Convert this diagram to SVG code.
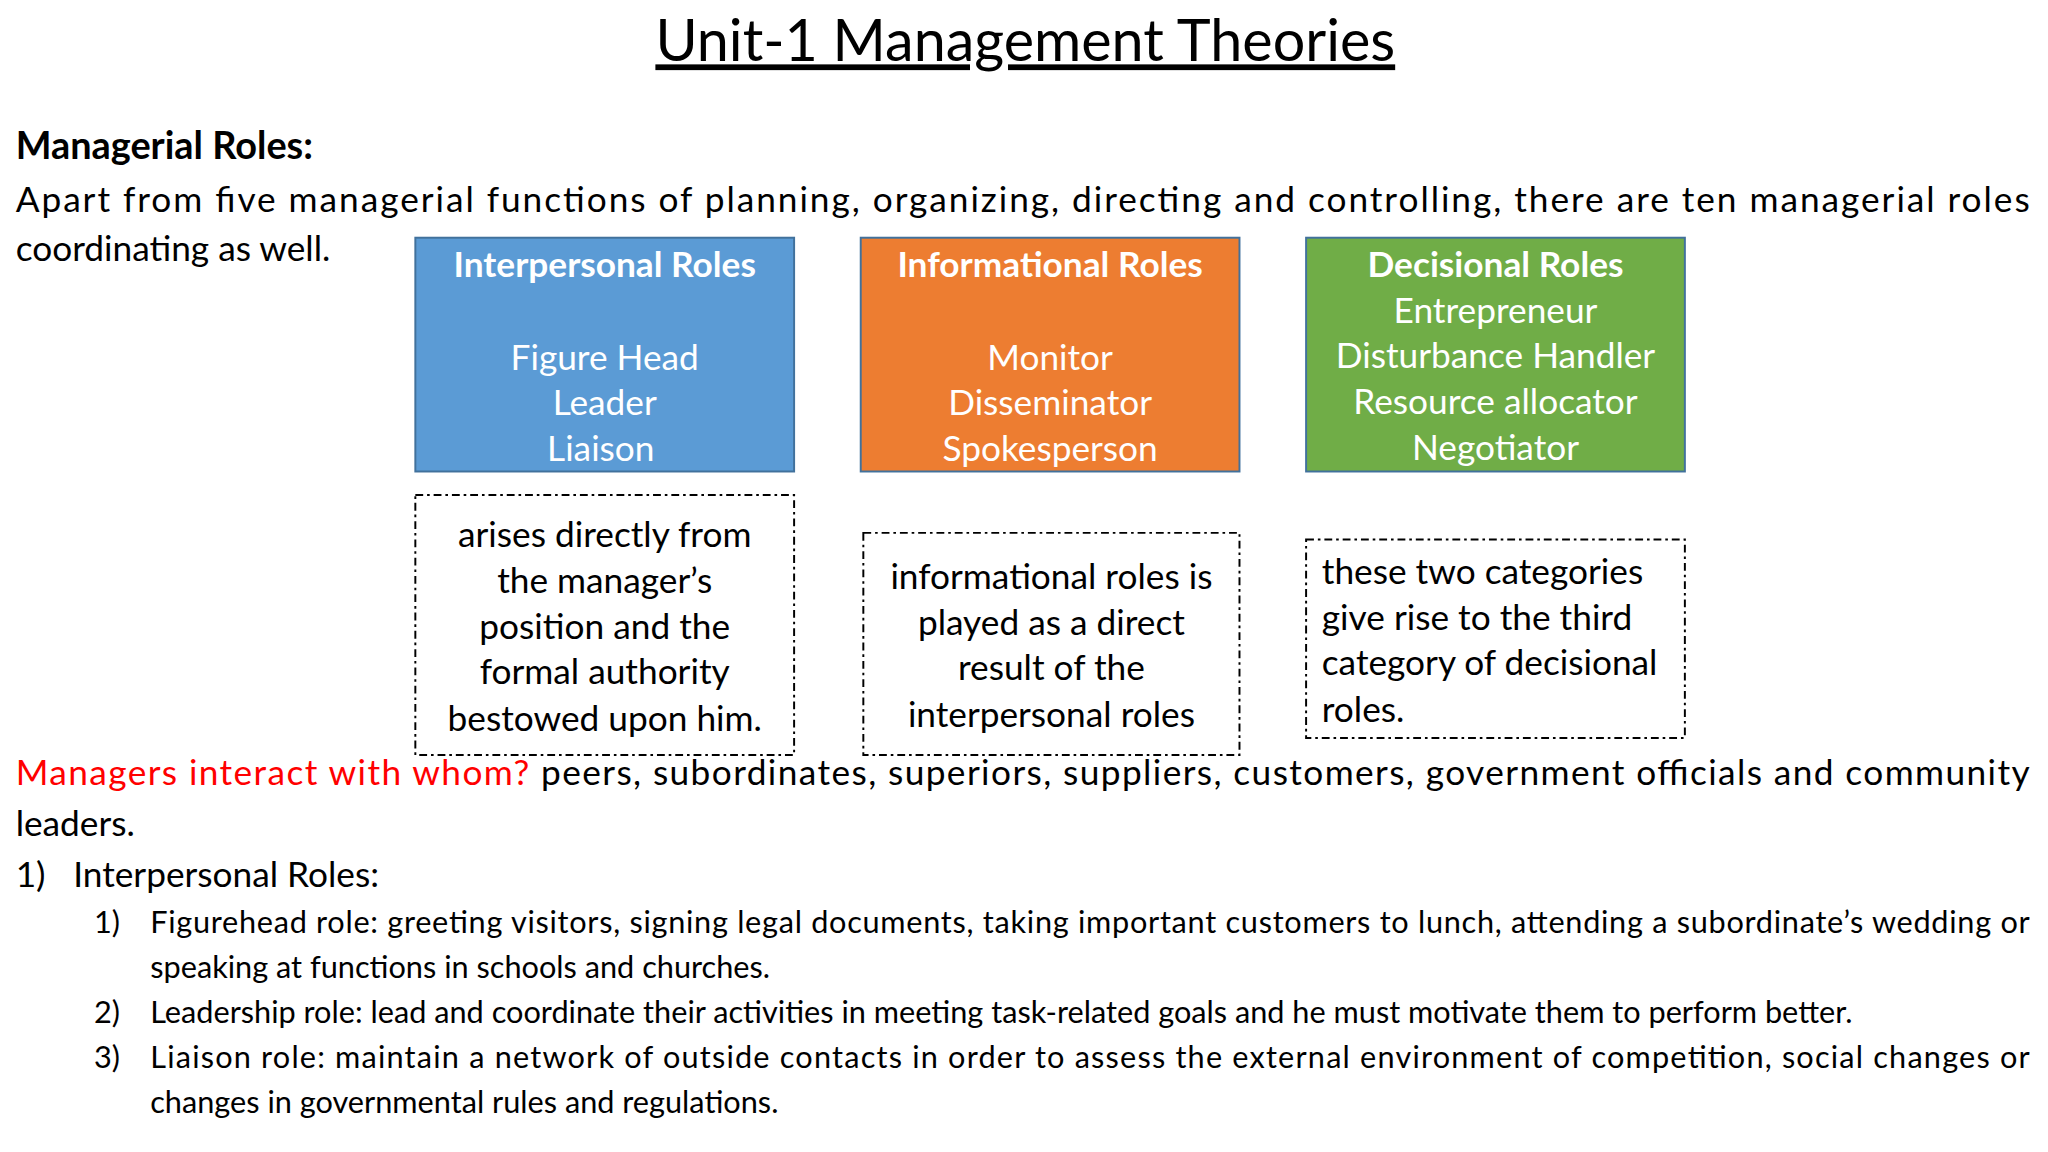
<svg xmlns="http://www.w3.org/2000/svg" width="2048" height="1152" viewBox="0 0 2048 1152">
<style>
text{font-family:Lato,"Open Sans","Liberation Sans",sans-serif;fill:#000}
.b{font-size:27px}
.w{font-size:27px;fill:#fff;text-anchor:middle}
.bd{font-weight:bold}
.c{text-anchor:middle}
.s{font-size:23.5px}
.dash{fill:#fff;stroke:#000;stroke-width:1.5;stroke-dasharray:6 3 2 3}
</style>
<rect width="2048" height="1152" fill="#fff"/>
<g transform="scale(1.3061)">
<text x="785" y="47" class="c" font-size="44" text-decoration="underline">Unit-1 Management Theories</text>
<text x="12" y="122" font-size="29" class="bd">Managerial Roles:</text>
<text x="12" y="162" class="b" textLength="1542" lengthAdjust="spacing">Apart from five managerial functions of planning, organizing, directing and controlling, there are ten managerial roles</text>
<text x="12" y="200" class="b">coordinating as well.</text>
<g id="interpersonal">
<rect x="318" y="182" width="290" height="179" fill="#5b9bd5" stroke="#41719c" stroke-width="1.5"/>
<text x="463" y="212" class="w bd">Interpersonal Roles</text>
<text x="463" y="283" class="w">Figure Head</text>
<text x="463" y="318" class="w">Leader</text>
<text x="460" y="353" class="w">Liaison</text>
</g>
<g id="informational">
<rect x="659" y="182" width="290" height="179" fill="#ed7d31" stroke="#41719c" stroke-width="1.5"/>
<text x="804" y="212" class="w bd">Informational Roles</text>
<text x="804" y="283" class="w">Monitor</text>
<text x="804" y="318" class="w">Disseminator</text>
<text x="804" y="353" class="w">Spokesperson</text>
</g>
<g id="decisional">
<rect x="1000" y="182" width="290" height="179" fill="#70ad47" stroke="#41719c" stroke-width="1.5"/>
<text x="1145" y="212" class="w bd">Decisional Roles</text>
<text x="1145" y="247" class="w">Entrepreneur</text>
<text x="1145" y="282" class="w">Disturbance Handler</text>
<text x="1145" y="317" class="w">Resource allocator</text>
<text x="1145" y="352" class="w">Negotiator</text>
</g>
<g id="note1">
<rect x="318" y="379" width="290" height="199" class="dash"/>
<text class="b c" x="463" y="419">arises directly from</text>
<text class="b c" x="463" y="454">the manager’s</text>
<text class="b c" x="463" y="489">position and the</text>
<text class="b c" x="463" y="524">formal authority</text>
<text class="b c" x="463" y="560">bestowed upon him.</text>
</g>
<g id="note2">
<rect x="661" y="408" width="288" height="170" class="dash"/>
<text class="b c" x="805" y="451">informational roles is</text>
<text class="b c" x="805" y="486">played as a direct</text>
<text class="b c" x="805" y="521">result of the</text>
<text class="b c" x="805" y="557">interpersonal roles</text>
</g>
<g id="note3">
<rect x="1000" y="413" width="290" height="152" class="dash"/>
<text class="b" x="1012" y="447">these two categories</text>
<text class="b" x="1012" y="482">give rise to the third</text>
<text class="b" x="1012" y="517">category of decisional</text>
<text class="b" x="1012" y="553">roles.</text>
</g>
<g id="connectors"></g>
<text x="12" y="601" class="b" textLength="1542" lengthAdjust="spacing"><tspan fill="#ff0000" style="fill:#ff0000">Managers interact with whom?</tspan> peers, subordinates, superiors, suppliers, customers, government officials and community</text>
<text x="12" y="640" class="b">leaders.</text>
<text x="12" y="679" class="b">1)</text>
<text x="56" y="679" class="b">Interpersonal Roles:</text>
<text x="72" y="714" class="s">1)</text>
<text x="115" y="714" class="s" textLength="1439" lengthAdjust="spacing">Figurehead role: greeting visitors, signing legal documents, taking important customers to lunch, attending a subordinate’s wedding or</text>
<text x="115" y="749" class="s">speaking at functions in schools and churches.</text>
<text x="72" y="783" class="s">2)</text>
<text x="115" y="783" class="s">Leadership role: lead and coordinate their activities in meeting task-related goals and he must motivate them to perform better.</text>
<text x="72" y="818" class="s">3)</text>
<text x="115" y="818" class="s" textLength="1439" lengthAdjust="spacing">Liaison role: maintain a network of outside contacts in order to assess the external environment of competition, social changes or</text>
<text x="115" y="852" class="s">changes in governmental rules and regulations.</text>
</g>
</svg>
